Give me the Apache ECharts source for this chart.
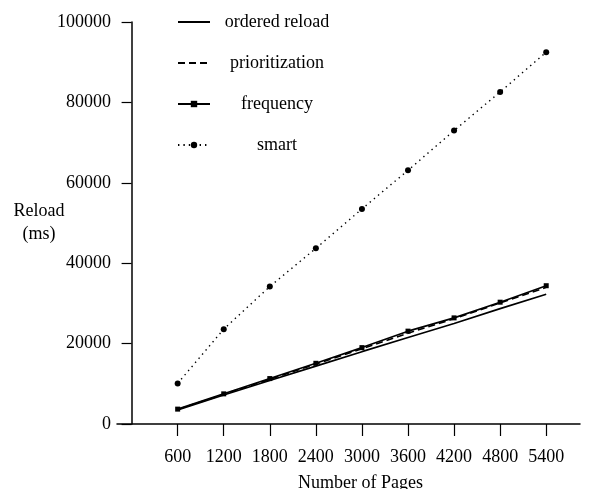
<!DOCTYPE html>
<html>
<head>
<meta charset="utf-8">
<script src="https://cdn.jsdelivr.net/npm/echarts@6/dist/echarts.min.js"></script>
<style>
  html, body { margin: 0; padding: 0; background: #fff; }
  #chart { width: 593px; height: 489px; }
</style>
</head>
<body>
<div id="chart"></div>
<script>
// number of pages (x) and reload time in ms per strategy
var pages = [600, 1200, 1800, 2400, 3000, 3600, 4200, 4800, 5400];
var orderedReload = [3500, 7200, 10800, 14400, 18000, 21500, 25000, 28700, 32300];
var prioritization = [3600, 7400, 11100, 14900, 18700, 22600, 26200, 30100, 34000];
var frequency = [3700, 7500, 11300, 15100, 19000, 23100, 26400, 30300, 34400];
var smart = [10100, 23600, 34200, 43700, 53500, 63100, 73000, 82600, 92500];
var yTicks = [0, 20000, 40000, 60000, 80000, 100000];

var font = 'Liberation Serif';

function pairs(vals) {
  var out = [];
  for (var i = 0; i < pages.length; i++) {
    out.push([pages[i], vals[i]]);
  }
  return out;
}

var myChart = echarts.init(document.getElementById('chart'));

var option = {
  backgroundColor: '#fff',
  animation: false,
  textStyle: { fontFamily: font, color: '#000' },
  grid: { left: 117, right: 13, top: 22, bottom: 65, outerBoundsMode: 'none', containLabel: false },
  legend: {
    orient: 'vertical',
    left: 172,
    top: 8,
    itemWidth: 32,
    itemHeight: 8,
    itemGap: 23,
    textStyle: {
      fontFamily: font,
      fontSize: 18,
      color: '#000',
      rich: { c: { width: 124, align: 'center', fontFamily: font, fontSize: 18, color: '#000' } }
    },
    formatter: function (name) { return '{c|' + name + '}'; },
    data: ['ordered reload', 'prioritization', 'frequency', 'smart']
  },
  xAxis: {
    type: 'value',
    min: -190,
    max: 5840,
    name: 'Number of Pages',
    nameLocation: 'middle',
    nameGap: 50,
    nameTextStyle: { fontFamily: font, fontSize: 18, color: '#000', padding: [0, 0, 0, 24] },
    axisLine: { onZero: false, lineStyle: { color: '#000', width: 1.5 } },
    axisTick: { customValues: pages, length: 12, lineStyle: { color: '#000', width: 1.2 } },
    axisLabel: {
      customValues: pages, margin: 24, fontFamily: font, fontSize: 18, color: '#000',
      formatter: function (v) { return String(v); }
    },
    splitLine: { show: false }
  },
  yAxis: {
    type: 'value',
    min: 0,
    max: 100000,
    interval: 20000,
    name: 'Reload\n(ms)',
    nameLocation: 'middle',
    nameRotate: 0,
    nameGap: 78,
    nameMoveOverlap: false,
    nameTextStyle: { fontFamily: font, fontSize: 18, color: '#000', lineHeight: 23, align: 'center' },
    axisLine: { onZero: true, lineStyle: { color: '#000', width: 1.5 } },
    axisTick: { length: 10, lineStyle: { color: '#000', width: 1.2 } },
    axisLabel: {
      margin: 6, fontFamily: font, fontSize: 18, color: '#000',
      formatter: function (v) { return yTicks.indexOf(v) >= 0 ? String(v) : ''; }
    },
    splitLine: { show: false }
  },
  series: [
    {
      name: 'ordered reload',
      type: 'line',
      data: pairs(orderedReload),
      symbol: 'none',
      lineStyle: { color: '#000', width: 1.6, type: 'solid' },
      itemStyle: { color: 'rgba(0,0,0,0)', borderWidth: 0, opacity: 0 }
    },
    {
      name: 'prioritization',
      type: 'line',
      data: pairs(prioritization),
      symbol: 'none',
      lineStyle: { color: '#000', width: 1.6, type: [7, 4] },
      itemStyle: { color: 'rgba(0,0,0,0)', borderWidth: 0, opacity: 0 }
    },
    {
      name: 'frequency',
      type: 'line',
      data: pairs(frequency),
      symbol: 'rect',
      symbolSize: 5,
      lineStyle: { color: '#000', width: 1.6, type: 'solid' },
      itemStyle: { color: '#000' }
    },
    {
      name: 'smart',
      type: 'line',
      data: pairs(smart),
      symbol: 'circle',
      symbolSize: 6,
      lineStyle: { color: '#000', width: 1.4, type: [1.4, 4] },
      itemStyle: { color: '#000' }
    }
  ]
};

myChart.setOption(option);
</script>
</body>
</html>
